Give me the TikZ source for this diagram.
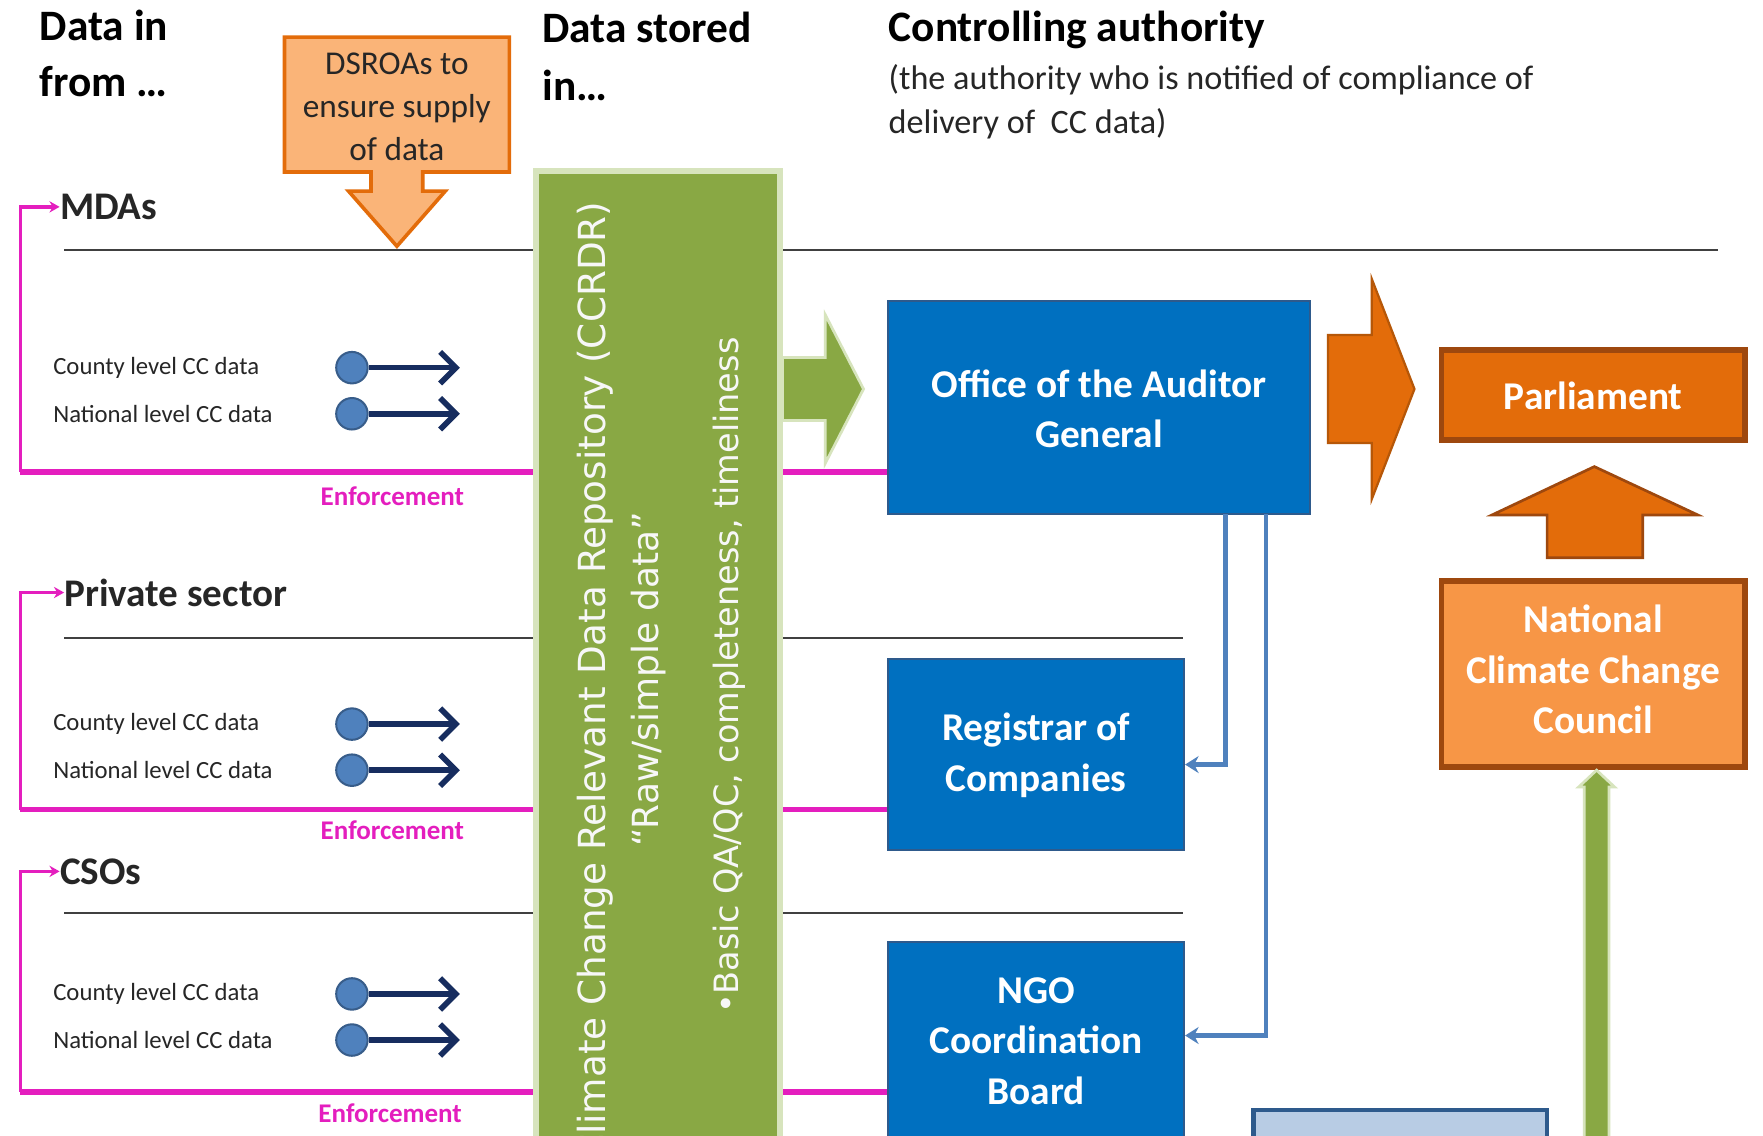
\documentclass[tikz,border=0pt]{standalone}
\usepackage{fontspec}
\setmainfont{Carlito}
\newfontfamily\dejavu{DejaVu Sans}
\usetikzlibrary{arrows.meta,fit,calc}
\definecolor{mag}{RGB}{228,30,190}
\definecolor{grn}{RGB}{137,168,68}
\definecolor{grnb}{RGB}{215,228,189}
\definecolor{blu}{RGB}{0,112,192}
\definecolor{blub}{RGB}{46,90,140}
\definecolor{ora}{RGB}{227,108,10}
\definecolor{orad}{RGB}{182,87,8}
\definecolor{orab}{RGB}{158,72,14}
\definecolor{oral}{RGB}{247,150,70}
\definecolor{orcall}{RGB}{250,180,120}
\definecolor{steel}{RGB}{79,129,189}
\definecolor{navy}{RGB}{23,45,95}
\definecolor{dotb}{RGB}{56,93,138}
\definecolor{lightblu}{RGB}{184,204,228}
\definecolor{txt}{RGB}{38,38,38}
\begin{document}
\begin{tikzpicture}[x=0.5pt,y=-0.5pt,
  hdr/.style={font=\fontsize{19.3}{24}\selectfont\bfseries, text=black, inner sep=0pt, anchor=base west},
  sub/.style={font=\fontsize{15.2}{18}\selectfont, text=txt, inner sep=0pt, anchor=base west},
  sect/.style={font=\fontsize{17.4}{20}\selectfont\bfseries, text=txt, inner sep=0pt, anchor=west},
  lbl/.style={font=\fontsize{11}{13}\selectfont, text=txt, inner sep=0pt, anchor=west},
  enf/.style={font=\fontsize{12}{14}\selectfont\bfseries, text=mag, inner sep=0pt},
  enfline/.style={draw=mag, line width=2.6pt},
  enfarr/.style={draw=mag, line width=1.5pt, -{Stealth[length=4.5pt,width=5pt]}},
  divider/.style={draw=black!75, line width=0.9pt},
  dot/.style={circle, fill=steel, draw=dotb, line width=0.9pt, minimum size=14pt, inner sep=0pt},
  flow/.style={draw=navy, line width=2.5pt, -{Straight Barb[length=7pt,width=14pt]}},
  boxtxt/.style={text=white, font=\fontsize{17.5}{22.5}\selectfont\bfseries, align=center, inner sep=0pt},
  inbox/.style={label={[boxtxt, yshift=-0.5pt]center:{#1}}},
  bluebox/.style={fill=blu, draw=blub, line width=1pt, inner sep=0pt},
  orabox/.style={fill=ora, draw=orab, line width=2.6pt, inner sep=0pt},
  oralbox/.style={fill=oral, draw=orab, line width=2.6pt, inner sep=0pt},
  repobox/.style={fill=grn, draw=grnb, line width=2.6pt, inner sep=0pt},
  vtxt/.style={text=white!97!black, inner sep=0pt, rotate=90},
  conn/.style={draw=steel, line width=2pt, -{Stealth[length=6pt,width=7.5pt]}},
  blockgrn/.style={fill=grn, draw=grnb, line width=1.2pt},
  blockora/.style={fill=ora, draw=orad, line width=1pt}
]
\useasboundingbox (0,0) rectangle (1568,1010);
\clip (0,0) rectangle (1568,1010);
\fill[white] (0,0) rectangle (1568,1010);

% authority boxes
\node[bluebox, fit={(790,268) (1165,457)}, inbox={Office of the Auditor\\General}] (oag) {};
\node[bluebox, fit={(790,586) (1053,756)}, inbox={Registrar of\\Companies}] (reg) {};
\node[bluebox, fit={(790,838) (1053,1012)}, inbox={NGO\\Coordination\\Board}] (ngo) {};
\node[orabox, fit={(1282,311) (1552,391)}, inbox={Parliament}] (parl) {};
\node[oralbox, fit={(1282,517) (1552,682)}, label={[boxtxt, yshift=2pt]center:{National\\Climate Change\\Council}}] (nccc) {};
\node[fill=lightblu, draw=blub, line width=2pt, inner sep=0pt, fit={(1115,987) (1376,1040)}] (lbbox) {};

% headers
\node[hdr] (h1) at (35,36) {Data in};
\node[hdr] (h1b) at (35,86) {from …};
\node[hdr] (h2) at (482,38) {Data stored};
\node[hdr] (h2b) at (482,89) {in…};
\node[hdr] (h3) at (790,37) {Controlling authority};
\node[sub] (s1) at (790,80) {(the authority who is notified of compliance of};
\node[sub] (s2) at (790,119) {delivery of~ CC data)};

% section dividers
\draw[divider] (57,222) -- (1528,222);
\draw[divider] (57,567) -- (1052,567);
\draw[divider] (57,812) -- (1052,812);

% section titles
\node[sect] (mdas) at (53,184) {MDAs};
\node[sect] (priv) at (57,527) {Private sector};
\node[sect] (csos) at (53,775) {CSOs};

% enforcement loops
\coordinate (e1) at (18,420);
\coordinate (e2) at (18,720);
\coordinate (e3) at (18,971);
\draw[enfline] (e1) -- (oag.west |- e1);
\draw[enfline] (e2) -- (reg.west |- e2);
\draw[enfline] (e3) -- (ngo.west |- e3);
\draw[enfarr] (e1) |- (mdas.west);
\draw[enfarr] (e2) |- (priv.west);
\draw[enfarr] (e3) |- (csos.west);
\node[enf] (en1) at (349,441) {Enforcement};
\node[enf] (en2) at (349,738) {Enforcement};
\node[enf] (en3) at (347,990) {Enforcement};

% data labels and flows
\node[lbl] (l1) at (47,327) {County level CC data};
\node[lbl] (l2) at (47,368) {National level CC data};
\node[lbl] (l3) at (47,644) {County level CC data};
\node[lbl] (l4) at (47,685) {National level CC data};
\node[lbl] (l5) at (47,884) {County level CC data};
\node[lbl] (l6) at (47,925) {National level CC data};
\foreach \i/\yy in {1/327,2/368,3/644,4/685,5/884,6/925}{
  \node[dot] (d\i) at (313,\yy) {};
  \coordinate (t\i) at (409,\yy);
  \draw[flow] (d\i) -- (t\i);
}

% DSROAs callout
\draw[fill=orcall, draw=ora, line width=1.6pt, line join=miter]
  (253,33) -- (453,33) -- (453,153) -- (376,153) -- (376,170) -- (396,170)
  -- (353,219) -- (310,170) -- (330,170) -- (330,153) -- (253,153) -- cycle;
\node[font=\fontsize{14.8}{19}\selectfont, text=txt, align=center, inner sep=0pt] (dsroa) at (353,95) {DSROAs to\\ensure supply\\of data};

% repository
\node[repobox, fit={(477,152) (694,1060)}] (repo) {};
\node[vtxt, font=\dejavu\fontsize{16.6}{20}\selectfont] (r1) at (529,606) {Climate Change Relevant Data Repository (CCRDR)};
\node[vtxt, font=\dejavu\fontsize{16}{20}\selectfont] (r2) at (577,604) {“Raw/simple data”};
\node[vtxt, font=\dejavu\fontsize{14.9}{18}\selectfont] (r3) at (649,601) {•Basic QA/QC, completeness, timeliness};

% green arrow repository -> OAG
\draw[blockgrn] (696,318) -- (734,318) -- (734,280) -- (768,346) -- (734,412) -- (734,374) -- (696,374) -- cycle;

% OAG -> Registrar / NGO
\coordinate (o1) at (1090,457);
\coordinate (o2) at (1126,457);
\draw[conn] (o1) |- ($(reg.east)+(0,9)$);
\draw[conn] (o2) |- ($(ngo.east)+(0,-4)$);

% OAG -> Parliament big arrow
\draw[blockora] (1181,298) -- (1220,298) -- (1220,248) -- (1258,346) -- (1220,444) -- (1220,394) -- (1181,394) -- cycle;
% NCCC -> Parliament up arrow
\draw[fill=ora, draw=orab, line width=1.2pt] (1376,496) -- (1376,458) -- (1327,458) -- (1418,415) -- (1510,458) -- (1461,458) -- (1461,496) -- cycle;
% green arrow into NCCC
\draw[blockgrn] (1409,1014) -- (1409,700) -- (1404,700) -- (1420,685) -- (1436,700) -- (1431,700) -- (1431,1014) -- cycle;
\end{tikzpicture}
\end{document}
